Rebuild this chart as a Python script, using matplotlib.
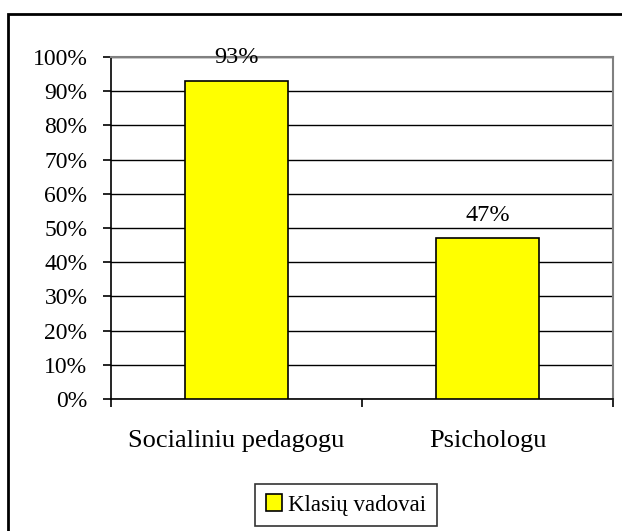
import numpy as np
import matplotlib.pyplot as plt
from matplotlib.patches import Rectangle

categories = ['Socialiniu pedagogu', 'Psichologu']
values = [93, 47]
series_name = 'Klasių vadovai'
yticks = np.arange(0, 101, 10)

plt.rcParams['font.family'] = ['Liberation Serif', 'DejaVu Serif']

fig = plt.figure(figsize=(6.22, 5.31), dpi=100)
W, H = 622, 531
ax = fig.add_axes([111 / W, 1 - 399 / H, (613 - 111) / W, (399 - 57) / H])

x = np.arange(len(categories))
bars = ax.bar(x, values, width=0.41, color='#ffff00', edgecolor='black',
              linewidth=1.2, label=series_name, zorder=3)

for xi, v in zip(x, values):
    ax.annotate(f'{v}%', (xi, v), xytext=(0, 9), textcoords='offset points',
                ha='center', va='bottom', fontsize=17.5, zorder=4)

ax.set_xlim(-0.5, len(categories) - 0.5)
ax.set_ylim(0, 100)
ax.set_yticks(yticks)
ax.set_yticklabels([f'{t}%' for t in yticks])
ax.tick_params(axis='y', length=6, width=1.2, pad=11, labelsize=17)

ax.set_xticks(x)
ax.set_xticklabels(categories)
ax.tick_params(axis='x', which='major', length=0, pad=22, labelsize=19)
ax.set_xticks(np.arange(-0.5, len(categories)), minor=True)
ax.tick_params(axis='x', which='minor', length=6, width=1.2)

ax.yaxis.grid(True, color='black', linewidth=1)
ax.set_axisbelow(True)
for s in ['left', 'bottom']:
    ax.spines[s].set_color('black')
    ax.spines[s].set_linewidth(1.2)
for s in ['top', 'right']:
    ax.spines[s].set_color('#808080')
    ax.spines[s].set_linewidth(1.5)

leg = ax.legend(loc='center', bbox_to_anchor=(346 / W, 1 - 505 / H),
                bbox_transform=fig.transFigure, fontsize=16.5, frameon=True,
                fancybox=False, edgecolor='black', handlelength=0.7,
                handleheight=0.7, handletextpad=0.3, borderpad=0.45)
leg.get_frame().set_linewidth(1.2)

fig.patches.append(Rectangle((8 / W, -0.1), 1.0, (531 - 14) / H + 0.1,
                             transform=fig.transFigure, fill=False,
                             edgecolor='black', linewidth=2))

fig.savefig('out.png', dpi=100)
